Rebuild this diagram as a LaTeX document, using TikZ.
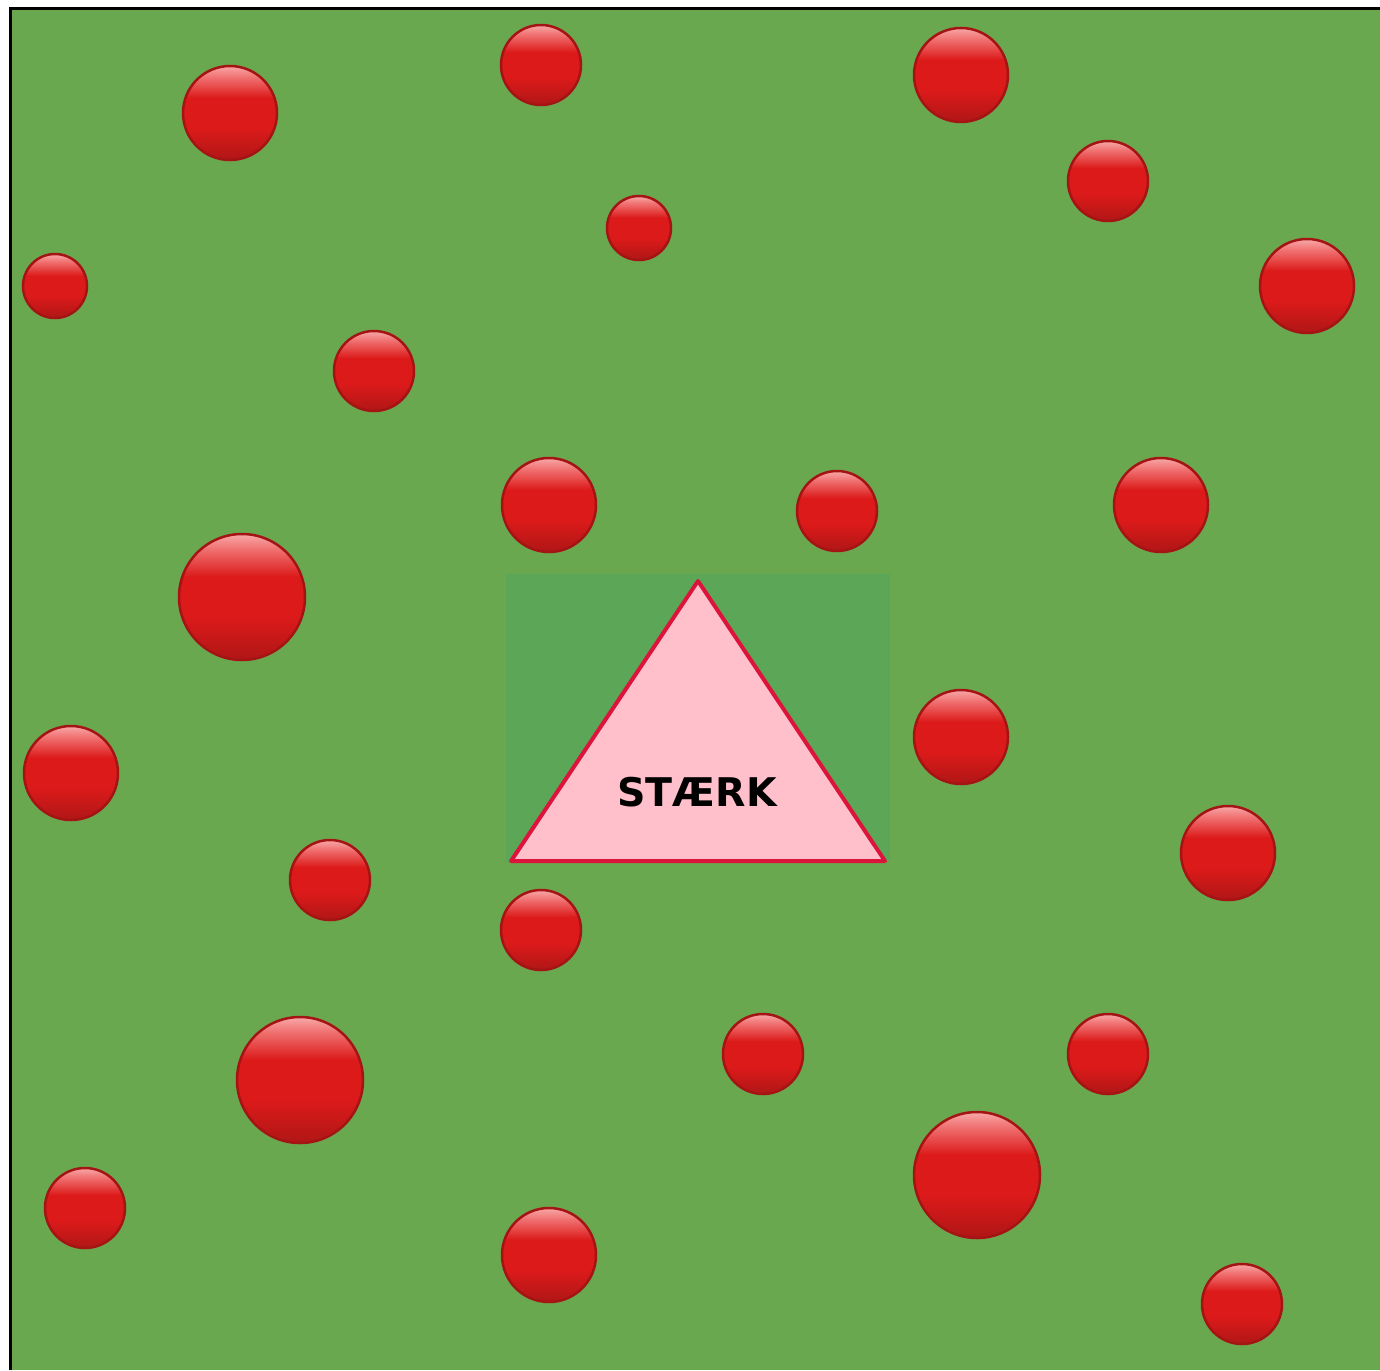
\documentclass[tikz,border=0pt]{standalone}
\usepackage{fontspec}
\setmainfont{DejaVu Sans}
\definecolor{field}{HTML}{6AA84F}
\definecolor{pad}{HTML}{5CA757}
\definecolor{tri}{HTML}{FFC0CB}
\definecolor{triedge}{HTML}{DC143C}
\definecolor{ballrim}{HTML}{A51414}
\definecolor{balldark}{HTML}{B01616}
\definecolor{ballmid}{HTML}{DC1A1A}
\definecolor{balllight}{HTML}{F07070}
\definecolor{balltop}{HTML}{F8A8A8}
\pgfdeclareverticalshading{ballshade}{100bp}{color(0bp)=(balldark); color(25bp)=(balldark); color(42bp)=(ballmid); color(58bp)=(ballmid); color(69bp)=(balllight); color(75bp)=(balltop); color(100bp)=(balltop)}
\tikzset{
  ball/.style={circle, inner sep=0pt, outer sep=0pt, shading=ballshade, draw=ballrim, line width=2.5pt, minimum size=#1},
  label text/.style={font=\bfseries\fontsize{39.5}{40}\selectfont, text=black, inner sep=0pt}
}
\begin{document}
\begin{tikzpicture}[x=1pt,y=-1pt]
\useasboundingbox (0,0) rectangle (1380,1370);
\fill[white] (0,0) rectangle (1380,1370);
\fill[field] (10.5,8.5) rectangle (1380,1370);
\draw[black, line width=3pt] (10.5,1370) -- (10.5,8.5) -- (1380,8.5);
\fill[pad] (506,574) rectangle (890,862);
\coordinate (apex) at (698,581);
\coordinate (bl) at (511,861);
\coordinate (br) at (885,861);
\draw[fill=tri, draw=triedge, line width=4pt, line join=round] (apex) -- (br) -- (bl) -- cycle;
\node[label text] (word) at (697,792) {STÆRK};
% balls
\node[ball=94pt]  (b1)  at (230,113) {};
\node[ball=80pt]  (b2)  at (541,65) {};
\node[ball=94pt]  (b3)  at (961,75) {};
\node[ball=80pt]  (b4)  at (1108,181) {};
\node[ball=64pt]  (b5)  at (639,228) {};
\node[ball=64pt]  (b6)  at (55,286) {};
\node[ball=94pt]  (b7)  at (1307,286) {};
\node[ball=80pt]  (b8)  at (374,371) {};
\node[ball=94pt]  (b9)  at (549,505) {};
\node[ball=80pt]  (b10) at (837,511) {};
\node[ball=94pt]  (b11) at (1161,505) {};
\node[ball=126pt] (b12) at (242,597) {};
\node[ball=94pt]  (b13) at (961,737) {};
\node[ball=94pt]  (b14) at (71,773) {};
\node[ball=94pt]  (b15) at (1228,853) {};
\node[ball=80pt]  (b16) at (330,880) {};
\node[ball=80pt]  (b17) at (541,930) {};
\node[ball=126pt] (b18) at (300,1080) {};
\node[ball=80pt]  (b19) at (763,1054) {};
\node[ball=80pt]  (b20) at (1108,1054) {};
\node[ball=80pt]  (b21) at (85,1208) {};
\node[ball=126pt] (b22) at (977,1175) {};
\node[ball=94pt]  (b23) at (549,1255) {};
\node[ball=80pt]  (b24) at (1242,1304) {};
\end{tikzpicture}
\end{document}
